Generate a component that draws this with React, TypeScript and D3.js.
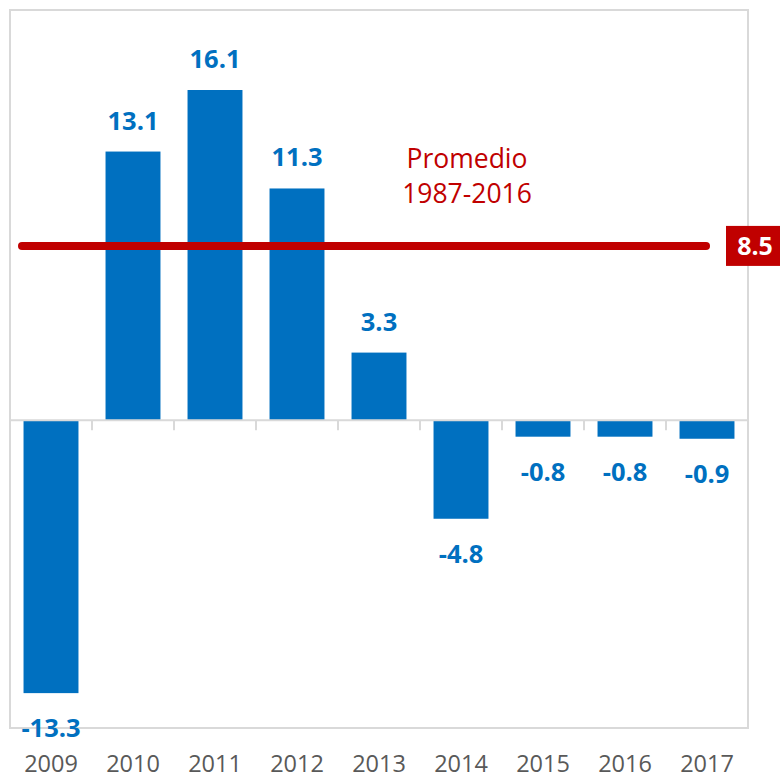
import React from "react";
import * as d3 from "d3";

const years = ["2009", "2010", "2011", "2012", "2013", "2014", "2015", "2016", "2017"];
const values = [-13.3, 13.1, 16.1, 11.3, 3.3, -4.8, -0.8, -0.8, -0.9];
const averageValue = 8.5;
const averageLabel = ["Promedio", "1987-2016"];
const yDomain: [number, number] = [-15, 20];

const W = 780;
const H = 778;
const left = 10;
const right = 748;
const top = 10;
const bottom = 728;
const FONT = "'Open Sans', 'Noto Sans', sans-serif";
const BLUE = "#0070c0";
const RED = "#c00000";
const GRAY = "#d9d9d9";

export default function App() {
  const x = d3.scaleBand<string>().domain(years).range([left, right]).paddingInner(0.33).paddingOuter(0.165);
  const xb = d3.scaleBand<string>().domain(years).range([left, right]);
  const y = d3.scaleLinear().domain(yDomain).range([bottom, top]);
  const y0 = y(0);
  const yAvg = y(averageValue);

  return (
    <svg width={W} height={H} style={{ position: "absolute", left: 0, top: 0, background: "#fff" }} fontFamily={FONT}>
      <rect x={left} y={top} width={right - left} height={bottom - top} fill="none" stroke={GRAY} strokeWidth={2} />
      {values.map((v, i) => {
        const yr = years[i];
        const bx = x(yr)!;
        const bw = x.bandwidth();
        const yTop = v >= 0 ? y(v) : y0;
        const h = Math.abs(y(v) - y0);
        const cx = bx + bw / 2;
        const ly = v >= 0 ? y(v) - 22 : y(v) + 44;
        return (
          <g key={yr}>
            <rect x={bx} y={yTop} width={bw} height={h} fill={BLUE} />
            <text x={cx} y={ly} textAnchor="middle" fill={BLUE} fontWeight="bold" fontSize={25.5}>
              {v.toFixed(1)}
            </text>
          </g>
        );
      })}
      <line x1={left} x2={right} y1={y0} y2={y0} stroke={GRAY} strokeWidth={2} />
      {years.slice(1).map((yr) => (
        <line key={yr} x1={xb(yr)!} x2={xb(yr)!} y1={y0} y2={y0 + 10} stroke={GRAY} strokeWidth={2} />
      ))}
      {years.map((yr) => (
        <text key={yr} x={xb(yr)! + xb.bandwidth() / 2} y={772} textAnchor="middle" fill="#595959" fontSize={23.5}>
          {yr}
        </text>
      ))}
      <line x1={22} x2={706} y1={yAvg} y2={yAvg} stroke={RED} strokeWidth={8} strokeLinecap="round" />
      <text x={467} y={168} textAnchor="middle" fill={RED} fontSize={26.5}>
        {averageLabel[0]}
      </text>
      <text x={467} y={203} textAnchor="middle" fill={RED} fontSize={26.5}>
        {averageLabel[1]}
      </text>
      <rect x={726} y={yAvg - 20} width={54} height={40} fill={RED} />
      <text x={755} y={yAvg + 9} textAnchor="middle" fill="#fff" fontWeight="bold" fontSize={25}>
        {averageValue.toFixed(1)}
      </text>
    </svg>
  );
}
